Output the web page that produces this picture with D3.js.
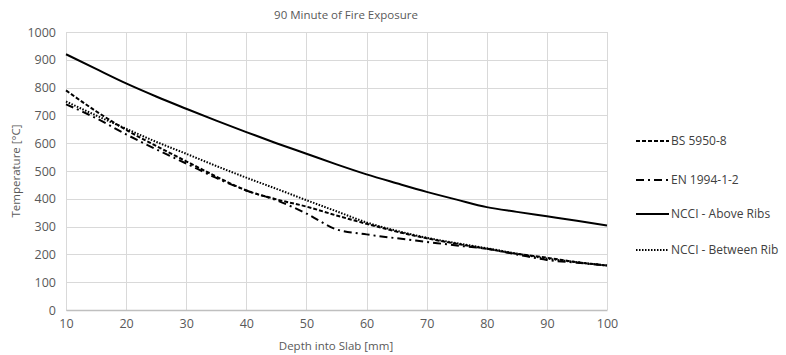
<!DOCTYPE html>
<html>
<head>
<meta charset="utf-8">
<style>
body { margin: 0; background: #fff; }
svg { display: block; font-family: "Open Sans", Arial, sans-serif; }
.grid line { stroke: #d9d9d9; stroke-width: 1; }
.tick text { fill: #595959; font-size: 12.5px; }
.ttl { fill: #595959; font-size: 11.5px; }
.leg { fill: #404040; font-size: 12px; }
</style>
</head>
<body>
<svg width="786" height="355"></svg>
<script src="https://d3js.org/d3.v7.min.js"></script>
<script>
// depth into slab [mm]
var depth = [10, 15, 20, 25, 30, 35, 40, 45, 50, 55, 60, 65, 70, 75, 80, 85, 90, 95, 100];
var bs5950 = [790, 715, 648, 590, 535, 480, 430, 398, 372, 340, 310, 282, 258, 238, 220, 202, 188, 172, 160];
var en1994 = [740, 690, 632, 578, 527, 475, 430, 395, 347, 290, 272, 258, 245, 232, 220, 200, 180, 170, 160];
var ncciAbove = [920, 867, 815, 768, 724, 681, 640, 600, 562, 524, 488, 456, 425, 397, 370, 353, 337, 321, 304];
var ncciBetween = [750, 700, 652, 605, 562, 518, 476, 436, 395, 355, 315, 285, 260, 240, 222, 203, 185, 172, 160];
var xTicks = [10, 20, 30, 40, 50, 60, 70, 80, 90, 100];
var yTicks = [0, 100, 200, 300, 400, 500, 600, 700, 800, 900, 1000];

var series = [
  {name: "BS 5950-8", values: bs5950, dash: "4,2"},
  {name: "EN 1994-1-2", values: en1994, dash: "8,4,2,4"},
  {name: "NCCI - Above Ribs", values: ncciAbove, dash: null},
  {name: "NCCI - Between Rib", values: ncciBetween, dash: "1.5,1.5"}
];

var svg = d3.select("svg");
var plotL = 66, plotR = 607, plotT = 32, plotB = 310;

var x = d3.scaleLinear().domain([10, 100]).range([plotL, plotR]);
var y = d3.scaleLinear().domain([0, 1000]).range([plotB, plotT]);

// grid
var grid = svg.append("g").attr("class", "grid");
grid.selectAll(".h").data(yTicks).enter().append("line")
    .attr("x1", plotL).attr("x2", plotR)
    .attr("y1", function(d) { return Math.round(y(d)) + 0.5; })
    .attr("y2", function(d) { return Math.round(y(d)) + 0.5; });
grid.selectAll(".v").data(xTicks).enter().append("line")
    .attr("y1", plotT).attr("y2", plotB)
    .attr("x1", function(d) { return Math.round(x(d)) + 0.5; })
    .attr("x2", function(d) { return Math.round(x(d)) + 0.5; });

// axes (labels only)
var xAxis = svg.append("g").attr("transform", "translate(0," + plotB + ")")
    .call(d3.axisBottom(x).tickValues(xTicks).tickFormat(d3.format("d")).tickSize(0).tickPadding(9));
xAxis.select(".domain").attr("stroke", "#bfbfbf").attr("stroke-width", 1.3);

var yAxis = svg.append("g").attr("transform", "translate(" + plotL + ",0)")
    .call(d3.axisLeft(y).tickValues(yTicks).tickFormat(d3.format("d")).tickSize(0).tickPadding(10));
yAxis.select(".domain").remove();
xAxis.attr("font-family", null).attr("font-size", null);
yAxis.attr("font-family", null).attr("font-size", null);

// lines
var line = d3.line()
    .x(function(d, i) { return x(depth[i]); })
    .y(function(d) { return y(d); })
    .curve(d3.curveMonotoneX);

svg.selectAll(".series").data(series).enter().append("path")
    .attr("fill", "none")
    .attr("stroke", "#000")
    .attr("stroke-width", 2)
    .attr("stroke-dasharray", function(d) { return d.dash; })
    .attr("d", function(d) { return line(d.values); });

// titles
svg.append("text").attr("class", "ttl").attr("x", 346).attr("y", 19)
    .attr("text-anchor", "middle").text("90 Minute of Fire Exposure");
svg.append("text").attr("class", "ttl").attr("x", 336).attr("y", 350)
    .attr("text-anchor", "middle").text("Depth into Slab [mm]");
svg.append("text").attr("class", "ttl")
    .attr("transform", "translate(20,171) rotate(-90)")
    .attr("text-anchor", "middle").text("Temperature [°C]");

// legend
var legY = [141, 180, 214, 250];
var leg = svg.selectAll(".legItem").data(series).enter().append("g")
    .attr("transform", function(d, i) { return "translate(636," + legY[i] + ")"; });
leg.append("line").attr("x1", 0).attr("x2", 33).attr("y1", 0).attr("y2", 0)
    .attr("stroke", "#000").attr("stroke-width", 2)
    .attr("stroke-dasharray", function(d) { return d.dash; });
leg.append("text").attr("class", "leg").attr("x", 35).attr("y", 4).text(function(d) { return d.name; });
</script>
</body>
</html>
